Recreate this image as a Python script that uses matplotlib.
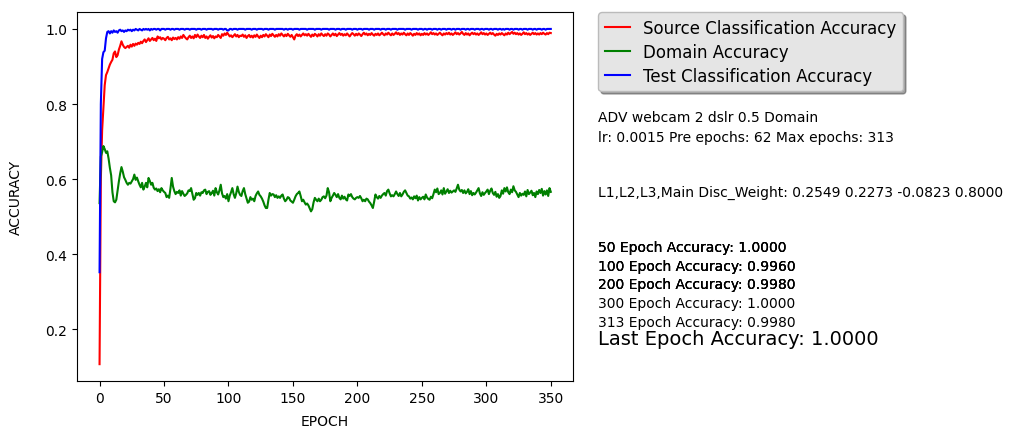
import numpy as np
import matplotlib
matplotlib.use("Agg")
import matplotlib.pyplot as plt

# per-epoch accuracies
source_acc = [
    0.107, 0.600, 0.730, 0.790, 0.850, 0.877, 0.885, 0.895, 0.905, 0.912,
    0.918, 0.935, 0.940, 0.925, 0.930, 0.945, 0.955, 0.967, 0.958, 0.952,
    0.949, 0.952, 0.955, 0.950, 0.958, 0.953, 0.960, 0.955, 0.961, 0.958,
    0.963, 0.960, 0.966, 0.962, 0.968, 0.972, 0.965, 0.970, 0.975, 0.968,
    0.972, 0.976, 0.970, 0.974, 0.968, 0.980, 0.975, 0.978, 0.972, 0.976,
    0.974, 0.970, 0.976, 0.979, 0.972, 0.975, 0.970, 0.977, 0.973, 0.976,
    0.972, 0.978, 0.974, 0.980, 0.976, 0.984, 0.979, 0.975, 0.972, 0.978,
    0.982, 0.976, 0.980, 0.975, 0.984, 0.978, 0.985, 0.980, 0.976, 0.982,
    0.978, 0.984, 0.976, 0.980, 0.974, 0.979, 0.983, 0.977, 0.981, 0.975,
    0.980, 0.978, 0.984, 0.980, 0.976, 0.986, 0.982, 0.988, 0.984, 0.990,
    0.985, 0.980, 0.983, 0.978, 0.982, 0.986, 0.980, 0.984, 0.978, 0.982,
    0.981, 0.985, 0.979, 0.983, 0.976, 0.981, 0.984, 0.978, 0.982, 0.977,
    0.983, 0.979, 0.985, 0.980, 0.976, 0.982, 0.978, 0.984, 0.980, 0.986,
    0.982, 0.978, 0.985, 0.981, 0.987, 0.983, 0.979, 0.984, 0.980, 0.986,
    0.982, 0.988, 0.984, 0.980, 0.985, 0.981, 0.987, 0.983, 0.979, 0.984,
    0.978, 0.972, 0.982, 0.986, 0.981, 0.985, 0.980, 0.984, 0.988, 0.983,
    0.986, 0.982, 0.987, 0.983, 0.979, 0.985, 0.981, 0.987, 0.984, 0.980,
    0.986, 0.982, 0.988, 0.984, 0.981, 0.986, 0.982, 0.988, 0.985, 0.980,
    0.984, 0.988, 0.983, 0.987, 0.981, 0.985, 0.989, 0.984, 0.987, 0.982,
    0.986, 0.983, 0.988, 0.984, 0.980, 0.985, 0.989, 0.986, 0.982, 0.987,
    0.983, 0.988, 0.985, 0.981, 0.986, 0.990, 0.985, 0.988, 0.983, 0.987,
    0.984, 0.989, 0.985, 0.982, 0.987, 0.984, 0.988, 0.983, 0.986, 0.990,
    0.986, 0.983, 0.988, 0.985, 0.990, 0.986, 0.983, 0.988, 0.984, 0.987,
    0.991, 0.986, 0.989, 0.984, 0.988, 0.985, 0.990, 0.986, 0.983, 0.988,
    0.984, 0.989, 0.986, 0.982, 0.987, 0.984, 0.989, 0.985, 0.988, 0.983,
    0.987, 0.984, 0.989, 0.985, 0.988, 0.984, 0.987, 0.991, 0.986, 0.989,
    0.985, 0.988, 0.984, 0.987, 0.990, 0.986, 0.983, 0.988, 0.985, 0.989,
    0.986, 0.990, 0.985, 0.988, 0.984, 0.987, 0.991, 0.986, 0.989, 0.985,
    0.988, 0.992, 0.987, 0.984, 0.989, 0.985, 0.988, 0.983, 0.987, 0.990,
    0.986, 0.989, 0.985, 0.988, 0.984, 0.987, 0.991, 0.986, 0.989, 0.985,
    0.988, 0.984, 0.987, 0.990, 0.986, 0.989, 0.985, 0.982, 0.987, 0.984,
    0.988, 0.985, 0.989, 0.986, 0.983, 0.988, 0.985, 0.990, 0.986, 0.989,
    0.992, 0.987, 0.990, 0.986, 0.989, 0.985, 0.988, 0.984, 0.987, 0.991,
    0.986, 0.989, 0.985, 0.988, 0.984, 0.987, 0.990, 0.986, 0.989, 0.985,
    0.988, 0.985, 0.989, 0.986, 0.990, 0.987, 0.985, 0.989, 0.986, 0.990,
    0.989,
]

domain_acc = [
    0.536, 0.660, 0.672, 0.688, 0.680, 0.670, 0.674, 0.655, 0.630, 0.610,
    0.565, 0.541, 0.538, 0.545, 0.570, 0.594, 0.615, 0.632, 0.620, 0.605,
    0.598, 0.590, 0.585, 0.590, 0.588, 0.594, 0.600, 0.612, 0.598, 0.604,
    0.594, 0.585, 0.578, 0.590, 0.572, 0.580, 0.590, 0.578, 0.603, 0.595,
    0.585, 0.590, 0.577, 0.572, 0.575, 0.568, 0.573, 0.565, 0.576, 0.570,
    0.566, 0.563, 0.552, 0.556, 0.550, 0.575, 0.603, 0.580, 0.568, 0.560,
    0.566, 0.563, 0.570, 0.556, 0.568, 0.561, 0.555, 0.558, 0.562, 0.570,
    0.568, 0.576, 0.560, 0.545, 0.549, 0.563, 0.558, 0.563, 0.556, 0.565,
    0.563, 0.570, 0.572, 0.560, 0.566, 0.568, 0.558, 0.563, 0.569, 0.556,
    0.576, 0.565, 0.559, 0.570, 0.585, 0.562, 0.552, 0.555, 0.548, 0.560,
    0.541, 0.556, 0.565, 0.576, 0.560, 0.550, 0.562, 0.580, 0.566, 0.558,
    0.555, 0.568, 0.576, 0.560, 0.548, 0.537, 0.540, 0.552, 0.545, 0.548,
    0.541, 0.555, 0.562, 0.567, 0.558, 0.554, 0.548, 0.540, 0.530, 0.523,
    0.523, 0.545, 0.563, 0.556, 0.560, 0.559, 0.552, 0.557, 0.550, 0.554,
    0.550, 0.556, 0.559, 0.548, 0.541, 0.545, 0.552, 0.550, 0.543, 0.540,
    0.537, 0.545, 0.554, 0.560, 0.563, 0.567, 0.555, 0.541, 0.545, 0.538,
    0.532, 0.535, 0.530, 0.522, 0.514, 0.520, 0.538, 0.550, 0.545, 0.541,
    0.548, 0.541, 0.545, 0.552, 0.554, 0.549, 0.556, 0.576, 0.565, 0.541,
    0.550, 0.556, 0.563, 0.558, 0.552, 0.560, 0.550, 0.546, 0.556, 0.548,
    0.553, 0.546, 0.543, 0.559, 0.555, 0.560, 0.552, 0.548, 0.546, 0.550,
    0.552, 0.550, 0.555, 0.549, 0.541, 0.545, 0.541, 0.548, 0.546, 0.540,
    0.536, 0.530, 0.523, 0.540, 0.559, 0.552, 0.548, 0.555, 0.550, 0.556,
    0.560, 0.563, 0.556, 0.568, 0.572, 0.562, 0.554, 0.557, 0.554, 0.560,
    0.567, 0.560, 0.555, 0.563, 0.554, 0.559, 0.566, 0.570, 0.563, 0.556,
    0.554, 0.548, 0.551, 0.546, 0.554, 0.549, 0.556, 0.543, 0.552, 0.546,
    0.550, 0.553, 0.546, 0.559, 0.551, 0.547, 0.545, 0.553, 0.549, 0.560,
    0.572, 0.565, 0.575, 0.560, 0.563, 0.570, 0.559, 0.576, 0.561, 0.567,
    0.573, 0.563, 0.569, 0.564, 0.567, 0.570, 0.566, 0.575, 0.585, 0.572,
    0.567, 0.571, 0.563, 0.570, 0.562, 0.566, 0.573, 0.560, 0.568, 0.557,
    0.563, 0.559, 0.564, 0.570, 0.576, 0.562, 0.555, 0.565, 0.558, 0.563,
    0.567, 0.572, 0.560, 0.569, 0.575, 0.563, 0.558, 0.566, 0.553, 0.560,
    0.550, 0.555, 0.570, 0.561, 0.576, 0.567, 0.578, 0.565, 0.560, 0.572,
    0.565, 0.581, 0.570, 0.566, 0.559, 0.552, 0.563, 0.556, 0.561, 0.558,
    0.567, 0.554, 0.571, 0.560, 0.564, 0.569, 0.557, 0.563, 0.552, 0.567,
    0.560, 0.571, 0.563, 0.574, 0.556, 0.568, 0.559, 0.570, 0.555, 0.576,
    0.566,
]

test_acc = [
    0.352, 0.800, 0.920, 0.938, 0.942, 0.975, 0.992, 0.994, 0.988, 0.994,
    0.990, 0.996, 0.992, 0.994, 0.990, 0.996, 0.998, 0.994, 0.996, 0.992,
    0.996, 0.994, 0.998, 0.996, 0.998, 0.994, 0.998, 0.996, 1.0, 0.998,
    0.996, 1.0, 0.998, 0.996, 1.0, 0.998, 1.0, 0.998, 1.0, 0.996,
    1.0, 0.998, 1.0, 1.0, 0.998, 1.0, 1.0, 0.996, 1.0, 1.0,
    1.0, 0.998, 1.0, 1.0, 1.0, 0.998, 1.0, 1.0, 0.998, 1.0,
    1.0, 1.0, 0.998, 1.0, 1.0, 1.0, 0.998, 1.0, 1.0, 1.0,
    0.998, 1.0, 1.0, 1.0, 1.0, 0.998, 1.0, 1.0, 1.0, 0.998,
    1.0, 1.0, 1.0, 0.998, 1.0, 1.0, 1.0, 1.0, 0.998, 1.0,
    1.0, 1.0, 0.998, 1.0, 1.0, 1.0, 0.998, 1.0, 1.0, 0.996,
    0.996, 1.0, 1.0, 0.998, 1.0, 1.0, 1.0, 0.998, 1.0, 1.0,
    1.0, 1.0, 1.0, 0.998, 1.0, 1.0, 1.0, 1.0, 0.998, 1.0,
    1.0, 1.0, 0.998, 1.0, 1.0, 1.0, 1.0, 0.998, 1.0, 1.0,
    1.0, 0.998, 1.0, 1.0, 1.0, 1.0, 0.998, 1.0, 1.0, 1.0,
    1.0, 1.0, 1.0, 0.998, 1.0, 1.0, 0.998, 1.0, 1.0, 1.0,
    0.998, 1.0, 1.0, 1.0, 1.0, 0.998, 1.0, 1.0, 1.0, 1.0,
    1.0, 0.998, 1.0, 1.0, 1.0, 1.0, 1.0, 0.998, 1.0, 1.0,
    1.0, 1.0, 0.998, 1.0, 1.0, 1.0, 1.0, 1.0, 0.998, 1.0,
    1.0, 1.0, 1.0, 0.998, 1.0, 1.0, 1.0, 0.998, 1.0, 1.0,
    1.0, 0.998, 1.0, 1.0, 1.0, 1.0, 0.998, 1.0, 1.0, 1.0,
    0.998, 1.0, 1.0, 1.0, 0.998, 1.0, 1.0, 1.0, 1.0, 0.998,
    1.0, 1.0, 1.0, 0.998, 1.0, 1.0, 1.0, 1.0, 0.998, 1.0,
    1.0, 1.0, 0.998, 1.0, 1.0, 1.0, 0.998, 1.0, 1.0, 1.0,
    1.0, 0.998, 1.0, 1.0, 1.0, 1.0, 1.0, 0.998, 1.0, 1.0,
    1.0, 1.0, 0.998, 1.0, 1.0, 1.0, 1.0, 0.998, 1.0, 1.0,
    1.0, 0.998, 1.0, 1.0, 0.998, 1.0, 1.0, 1.0, 0.998, 1.0,
    1.0, 1.0, 0.998, 1.0, 1.0, 0.998, 1.0, 1.0, 1.0, 0.998,
    1.0, 1.0, 1.0, 0.998, 1.0, 1.0, 0.998, 1.0, 1.0, 1.0,
    0.998, 1.0, 1.0, 1.0, 0.998, 1.0, 1.0, 0.998, 1.0, 1.0,
    1.0, 0.998, 1.0, 1.0, 1.0, 0.998, 1.0, 1.0, 0.998, 1.0,
    1.0, 1.0, 0.998, 1.0, 1.0, 0.998, 1.0, 1.0, 1.0, 0.998,
    1.0, 1.0, 0.998, 1.0, 0.998, 1.0, 1.0, 1.0, 0.998, 1.0,
    1.0, 0.998, 1.0, 1.0, 1.0, 0.998, 1.0, 1.0, 0.998, 1.0,
    1.0, 1.0, 0.998, 1.0, 1.0, 1.0, 0.998, 1.0, 1.0, 0.998,
    1.0, 1.0, 1.0, 0.998, 1.0, 1.0, 0.998, 1.0, 1.0, 1.0,
    1.0,
]

info_lines = [
    "ADV webcam 2 dslr 0.5 Domain",
    "lr: 0.0015 Pre epochs: 62 Max epochs: 313",
]
weights_line = "L1,L2,L3,Main Disc_Weight: 0.2549 0.2273 -0.0823 0.8000"
checkpoint_epochs = [50, 100, 200, 300, 313]
checkpoint_acc = [1.0000, 0.9960, 0.9980, 1.0000, 0.9980]
last_acc = 1.0000

fig = plt.figure(figsize=(10.13, 4.39), dpi=100)
ax = fig.add_axes([0.076, 0.13, 0.490, 0.84])

ax.plot(np.arange(len(source_acc)), source_acc, color="r", lw=1.5,
        label="Source Classification Accuracy")
ax.plot(np.arange(len(domain_acc)), domain_acc, color="g", lw=1.5,
        label="Domain Accuracy")
ax.plot(np.arange(len(test_acc)), test_acc, color="b", lw=1.5,
        label="Test Classification Accuracy")

ax.set_xlabel("EPOCH", labelpad=7)
ax.set_ylabel("ACCURACY", labelpad=16)
ax.set_xticks(np.arange(0, 351, 50))

leg = ax.legend(loc="upper left", bbox_to_anchor=(1.05, 1.0), borderaxespad=0,
                fontsize=12, shadow=True, fancybox=True, framealpha=1,
                handlelength=1.5, labelspacing=0.35)
leg.get_frame().set_facecolor("#e5e5e5")
leg.get_frame().set_edgecolor("#bbbbbb")

tx = 0.590
fig.text(tx, 0.731, info_lines[0], va="center", fontsize=10)
fig.text(tx, 0.686, info_lines[1], va="center", fontsize=10)
fig.text(tx, 0.560, weights_line, va="center", fontsize=10)

ys = [0.435, 0.392, 0.351, 0.308, 0.265]
# the first few lines were drawn repeatedly in the original run
repeats = [3, 3, 3, 1, 1]
for ep, acc, y, n in zip(checkpoint_epochs, checkpoint_acc, ys, repeats):
    for _ in range(n):
        fig.text(tx, y, "%d Epoch Accuracy: %.4f" % (ep, acc), va="center", fontsize=10)
fig.text(tx, 0.226, "Last Epoch Accuracy: %.4f" % last_acc, va="center", fontsize=14)

fig.savefig("out.png", dpi=100)
